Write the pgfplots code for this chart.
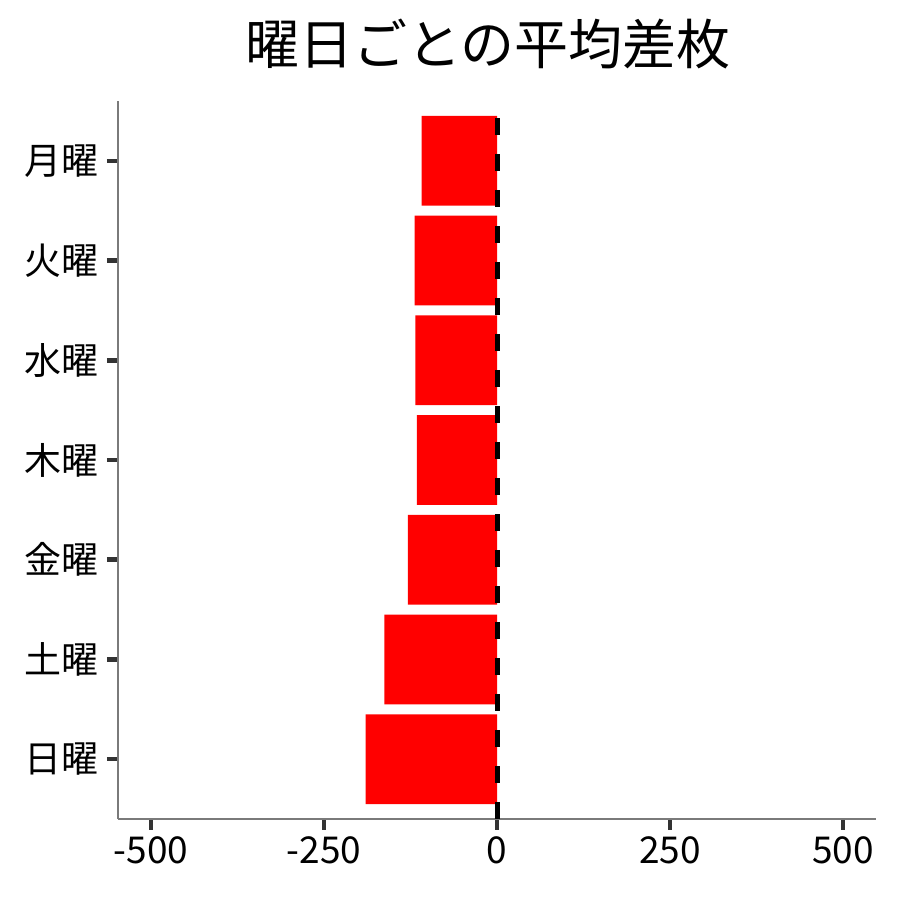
\documentclass[border=0pt]{standalone}
\usepackage{fontspec}
\setmainfont{Noto Sans CJK JP}
\usepackage{pgfplots}
\pgfplotsset{compat=1.18}
\definecolor{axgray}{HTML}{7A7A7A}
\definecolor{tickgray}{HTML}{333333}
\begin{document}
\begin{tikzpicture}
\begin{axis}[
  scale only axis,
  width=758pt, height=718pt,
  xmin=-548, xmax=548,
  ymin=-0.6, ymax=6.6,
  axis x line*=bottom, axis y line*=left,
  axis line style={draw=axgray, line width=1.2pt, -},
  xtick={-500,-250,0,250,500},
  xticklabels={-500,-250,0,250,500},
  ytick={0,1,2,3,4,5,6},
  yticklabels={日曜,土曜,金曜,木曜,水曜,火曜,月曜},
  tick align=outside,
  major tick length=11pt,
  xtick style={draw=tickgray, line width=4.5pt},
  ytick style={draw=tickgray, line width=4.5pt},
  ticklabel style={font=\fontsize{37}{40}\selectfont, text=black},
  xticklabel style={yshift=-3pt},
  yticklabel style={xshift=-5pt},
  clip=false,
]
\addplot[xbar, bar width=0.9, bar shift=0pt, fill=red, draw=none] coordinates {
  (-190,0) (-163,1) (-129,2) (-116,3) (-118,4) (-119,5) (-109,6)
};
\draw[black, line width=5pt, dash pattern=on 17pt off 19pt, line cap=butt] (axis cs:0,-0.6) -- (axis cs:0,6.6);
\end{axis}
\node[font=\fontsize{54}{60}\selectfont, anchor=center] at (370pt,775pt) {曜日ごとの平均差枚};
\path[use as bounding box] (-118pt,-81pt) rectangle (782pt,819pt);
\end{tikzpicture}
\end{document}
